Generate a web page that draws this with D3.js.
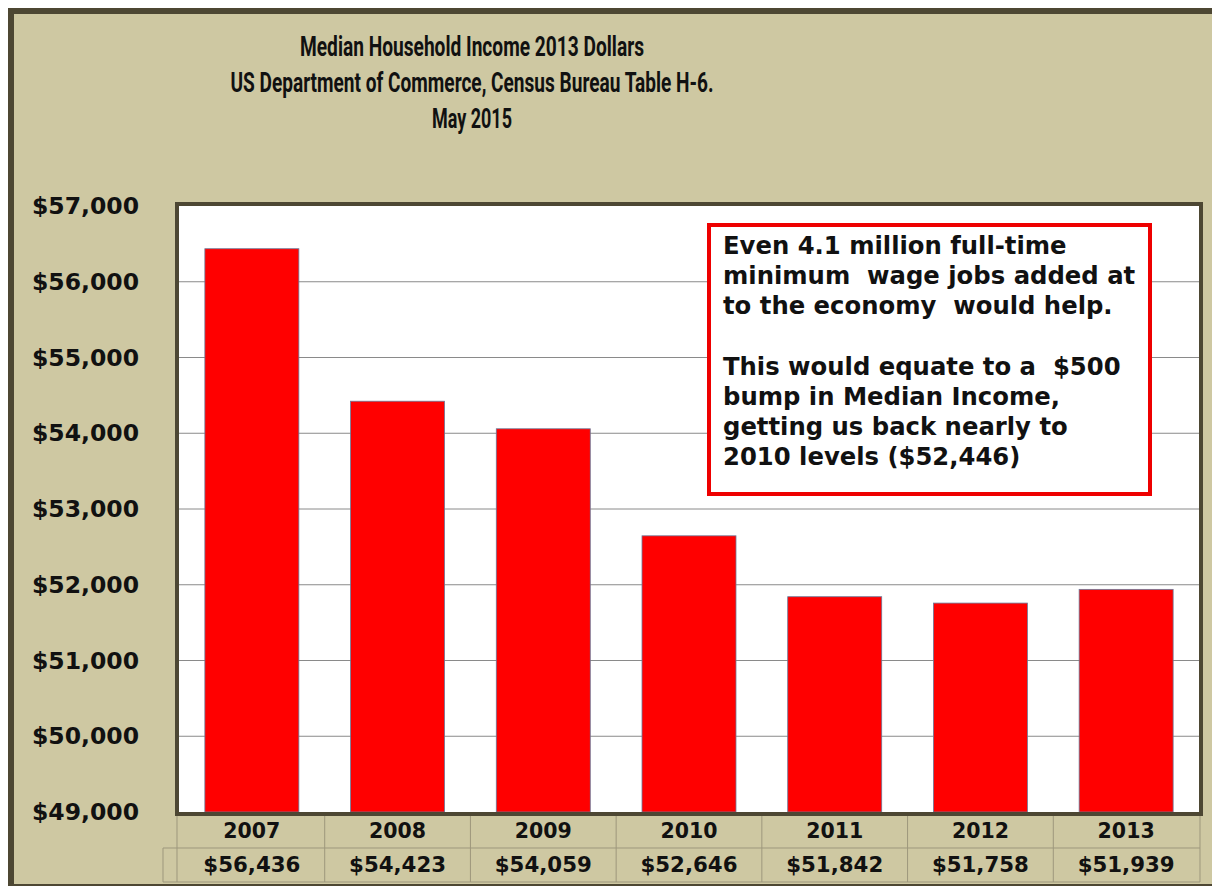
<!DOCTYPE html>
<html>
<head>
<meta charset="utf-8">
<script src="https://cdn.jsdelivr.net/npm/d3@7"></script>
<style>
  html, body { margin: 0; padding: 0; background: #fff; }
  svg { display: block; }
  .tick text { font-family: "DejaVu Sans", Verdana, sans-serif; font-weight: bold; fill: #111; }
</style>
</head>
<body>
<div id="chart"></div>
<script>
const YEARS = ['2007', '2008', '2009', '2010', '2011', '2012', '2013'];
const INCOME = [56436, 54423, 54059, 52646, 51842, 51758, 51939];
const Y_TICKS = [49000, 50000, 51000, 52000, 53000, 54000, 55000, 56000, 57000];
const TITLE_LINES = [
  'Median Household Income 2013 Dollars',
  'US Department of Commerce, Census Bureau Table H-6.',
  'May 2015'
];
const NOTE_LINES = [
  'Even 4.1 million full-time',
  'minimum  wage jobs added at',
  'to the economy  would help.',
  '',
  'This would equate to a  $500',
  'bump in Median Income,',
  'getting us back nearly to',
  '2010 levels ($52,446)'
];

const BG = '#cec8a2';
const FRAME = '#4d4733';
const BAR = '#ff0000';

const W = 1212, H = 886;
const plot = { left: 179, right: 1199, top: 206, bottom: 812 };

const svg = d3.select('#chart').append('svg')
  .attr('width', W).attr('height', H);

// outer frame
svg.append('rect')
  .attr('x', 11).attr('y', 11)
  .attr('width', W + 10).attr('height', 876)
  .attr('fill', BG)
  .attr('stroke', FRAME).attr('stroke-width', 6);

// title (Calibri-like width, squeezed to the original line lengths)
const titleWidths = [344, 483, 80];
const title = svg.append('g')
  .attr('font-family', 'Roboto, "Open Sans", sans-serif')
  .attr('font-weight', 'bold')
  .attr('font-size', 28)
  .attr('fill', '#111');
TITLE_LINES.forEach((t, i) => {
  title.append('text')
    .attr('x', 472 - titleWidths[i] / 2).attr('y', 56 + i * 36)
    .attr('textLength', titleWidths[i])
    .attr('lengthAdjust', 'spacingAndGlyphs')
    .text(t);
});

const x = d3.scaleBand()
  .domain(YEARS)
  .range([plot.left, plot.right])
  .paddingInner(0.355)
  .paddingOuter(0.1775);

const y = d3.scaleLinear()
  .domain([49000, 57000])
  .range([plot.bottom, plot.top]);

// plot background
svg.append('rect')
  .attr('x', plot.left).attr('y', plot.top)
  .attr('width', plot.right - plot.left).attr('height', plot.bottom - plot.top)
  .attr('fill', '#fff');

// gridlines
svg.append('g')
  .selectAll('line')
  .data(Y_TICKS.slice(1, -1))
  .join('line')
  .attr('x1', plot.left).attr('x2', plot.right)
  .attr('y1', d => y(d)).attr('y2', d => y(d))
  .attr('stroke', '#8a8a8a').attr('stroke-width', 1);

// bars
svg.append('g')
  .selectAll('rect')
  .data(YEARS)
  .join('rect')
  .attr('x', d => x(d))
  .attr('y', (d, i) => y(INCOME[i]))
  .attr('width', x.bandwidth())
  .attr('height', (d, i) => y(49000) - y(INCOME[i]))
  .attr('fill', BAR)
  .attr('stroke', '#6a7a9a').attr('stroke-width', 0.8);

// plot border
svg.append('rect')
  .attr('x', plot.left - 2).attr('y', plot.top - 2)
  .attr('width', plot.right - plot.left + 4).attr('height', plot.bottom - plot.top + 4)
  .attr('fill', 'none')
  .attr('stroke', FRAME).attr('stroke-width', 4);

// y axis
const yAxis = svg.append('g')
  .attr('transform', `translate(${plot.left},0)`)
  .call(d3.axisLeft(y).tickValues(Y_TICKS).tickSize(0).tickPadding(40)
    .tickFormat(d => '$' + d3.format(',')(d)));
yAxis.select('.domain').remove();
yAxis.selectAll('text').attr('font-size', 23.5);

// data table under the plot
const rowTop = plot.bottom + 4, rowMid = 848, rowBot = 882;
const tbl = svg.append('g')
  .attr('stroke', '#9d977c').attr('stroke-width', 1).attr('fill', 'none');
tbl.append('line').attr('x1', 163).attr('x2', plot.right + 1).attr('y1', rowMid).attr('y2', rowMid);
tbl.append('line').attr('x1', 163).attr('x2', plot.right + 1).attr('y1', rowBot).attr('y2', rowBot);
tbl.append('line').attr('x1', 163).attr('x2', 163).attr('y1', rowMid).attr('y2', rowBot);
const edges = YEARS.map(d => x(d) - x.step() * x.paddingInner() / 2);
edges.push(plot.right + 1);
edges[0] = plot.left - 2;
tbl.selectAll('.vline')
  .data(edges)
  .join('line')
  .attr('x1', d => d).attr('x2', d => d)
  .attr('y1', rowTop).attr('y2', rowBot);

svg.append('g')
  .selectAll('text')
  .data(YEARS)
  .join('text')
  .attr('x', d => x(d) + x.bandwidth() / 2)
  .attr('y', 838)
  .attr('text-anchor', 'middle')
  .attr('font-family', '"DejaVu Sans", Verdana, sans-serif')
  .attr('font-weight', 'bold')
  .attr('font-size', 20.5)
  .attr('fill', '#111')
  .text(d => d);

svg.append('g')
  .selectAll('text')
  .data(YEARS)
  .join('text')
  .attr('x', d => x(d) + x.bandwidth() / 2)
  .attr('y', 872)
  .attr('text-anchor', 'middle')
  .attr('font-family', '"DejaVu Sans", Verdana, sans-serif')
  .attr('font-weight', 'bold')
  .attr('font-size', 21.3)
  .attr('fill', '#111')
  .text((d, i) => '$' + d3.format(',')(INCOME[i]));

// annotation box
svg.append('rect')
  .attr('x', 709).attr('y', 225)
  .attr('width', 441).attr('height', 269)
  .attr('fill', '#fff')
  .attr('stroke', '#ee0000').attr('stroke-width', 4);

const note = svg.append('text')
  .attr('font-family', '"DejaVu Sans", Verdana, sans-serif')
  .attr('font-weight', 'bold')
  .attr('font-size', 24.3)
  .attr('fill', '#111')
  .style('white-space', 'pre');
NOTE_LINES.forEach((t, i) => {
  note.append('tspan').attr('x', 723).attr('y', 254 + i * 30.2).text(t);
});
</script>
</body>
</html>
